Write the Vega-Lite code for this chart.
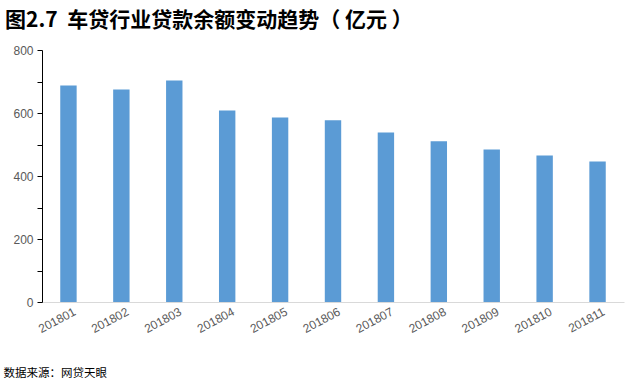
{
  "$schema": "https://vega.github.io/schema/vega-lite/v6.json",
  "width": 582,
  "height": 252,
  "autosize": "none",
  "padding": {"left": 42, "top": 50, "right": 16, "bottom": 82},
  "background": "white",
  "title": {
    "text": "图2.7\u00a0\u00a0车贷行业贷款余额变动趋势（\u00a0亿元\u00a0）",
    "anchor": "start",
    "frame": "group",
    "dx": -37,
    "offset": 13,
    "fontSize": 21,
    "font": "Noto Sans CJK SC",
    "fontWeight": "bold",
    "color": "#000000"
  },
  "data": {
    "values": [
      {"month": "201801", "value": 687},
      {"month": "201802", "value": 675},
      {"month": "201803", "value": 703},
      {"month": "201804", "value": 608},
      {"month": "201805", "value": 586},
      {"month": "201806", "value": 577},
      {"month": "201807", "value": 538},
      {"month": "201808", "value": 510},
      {"month": "201809", "value": 484},
      {"month": "201810", "value": 465},
      {"month": "201811", "value": 446}
    ]
  },
  "mark": {"type": "bar", "color": "#5B9BD5"},
  "encoding": {
    "x": {
      "field": "month",
      "type": "ordinal",
      "scale": {"paddingInner": 0.69, "paddingOuter": 0.345},
      "axis": {
        "title": "数据来源：网贷天眼",
        "titleFont": "Noto Sans CJK SC",
        "titleFontSize": 11.5,
        "titleFontWeight": "normal",
        "titleColor": "#000000",
        "titleAnchor": "start",
        "titleAlign": "left",
        "titleBaseline": "alphabetic",
        "titleX": -39,
        "titleY": 74,
        "labelAngle": -28,
        "labelAlign": "right",
        "labelBaseline": "top",
        "labelFont": "Liberation Sans",
        "labelFontSize": 12,
        "labelColor": "#595959",
        "labelPadding": 4,
        "labelOffset": 4,
        "ticks": false,
        "domainColor": "#D9D9D9",
        "domainWidth": 1
      }
    },
    "y": {
      "field": "value",
      "type": "quantitative",
      "scale": {"domain": [0, 800], "nice": false},
      "axis": {
        "title": null,
        "values": [0, 100, 200, 300, 400, 500, 600, 700, 800],
        "labelExpr": "datum.value % 200 === 0 ? datum.label : ''",
        "grid": false,
        "domainColor": "#000000",
        "domainWidth": 1,
        "tickColor": "#000000",
        "tickSize": 5,
        "labelFont": "Liberation Sans",
        "labelFontSize": 12,
        "labelColor": "#595959",
        "labelPadding": 4
      }
    }
  },
  "config": {"view": {"stroke": null}}
}
